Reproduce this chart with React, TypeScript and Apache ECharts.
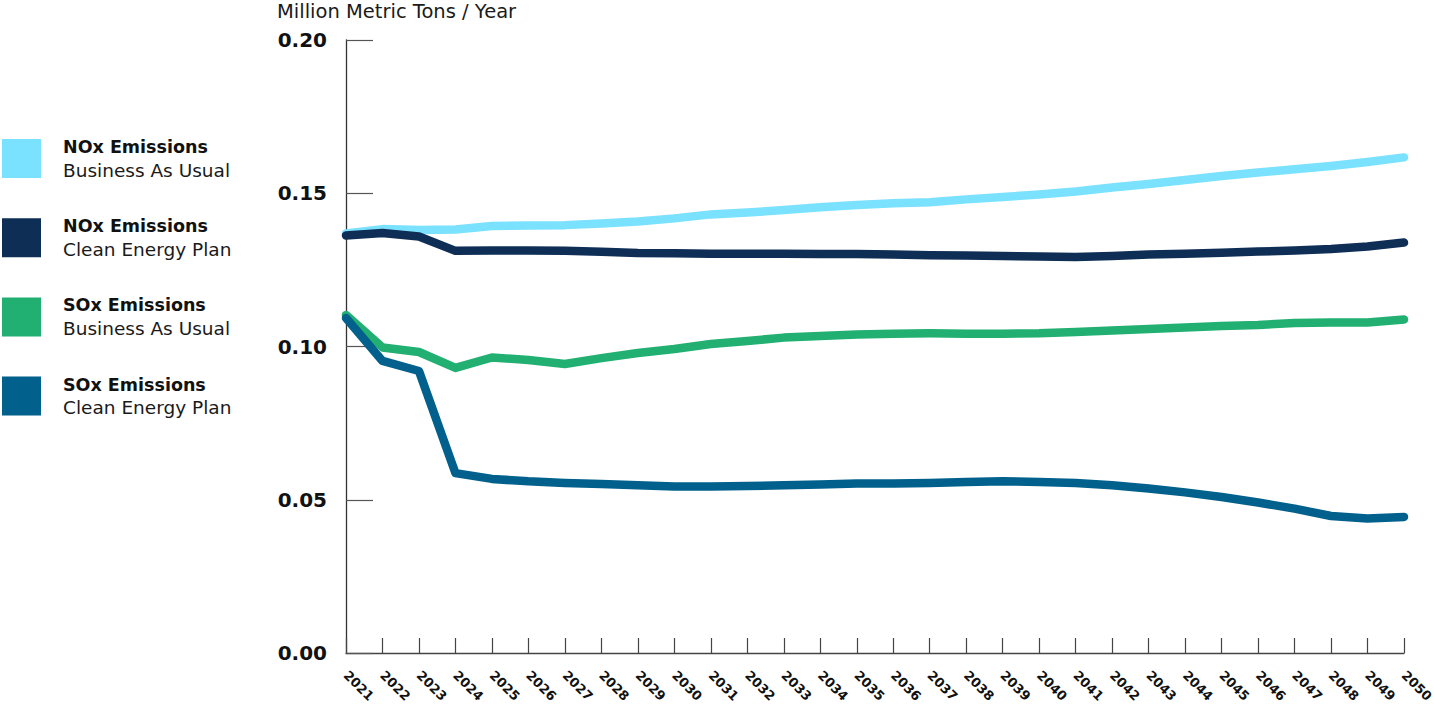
import React, { useEffect, useRef } from "react";
import * as echarts from "echarts";

// Projected annual emissions, million metric tons per year
const years = [
  "2021", "2022", "2023", "2024", "2025", "2026", "2027", "2028", "2029", "2030",
  "2031", "2032", "2033", "2034", "2035", "2036", "2037", "2038", "2039", "2040",
  "2041", "2042", "2043", "2044", "2045", "2046", "2047", "2048", "2049", "2050",
];

const noxBusinessAsUsual = [
  0.1369, 0.1383, 0.138, 0.1382, 0.1393, 0.1395, 0.1396, 0.1401, 0.1408, 0.1418,
  0.1431, 0.1437, 0.1445, 0.1454, 0.1462, 0.1467, 0.1471, 0.148, 0.1488, 0.1496,
  0.1506, 0.1519, 0.153, 0.1543, 0.1556, 0.1568, 0.1578, 0.1589, 0.1602, 0.1617,
];

const noxCleanEnergyPlan = [
  0.1362, 0.137, 0.1359, 0.1312, 0.1313, 0.1313, 0.1312, 0.1309, 0.1305, 0.1304,
  0.1303, 0.1303, 0.1303, 0.1302, 0.1302, 0.13, 0.1298, 0.1297, 0.1295, 0.1294,
  0.1292, 0.1295, 0.13, 0.1303, 0.1306, 0.131, 0.1313, 0.1318, 0.1326, 0.1339,
];

const soxBusinessAsUsual = [
  0.1103, 0.0997, 0.0982, 0.093, 0.0964, 0.0956, 0.0943, 0.0962, 0.0979, 0.0992,
  0.1008, 0.1018, 0.1029, 0.1034, 0.1039, 0.1042, 0.1043, 0.1042, 0.1042, 0.1043,
  0.1047, 0.1052, 0.1057, 0.1062, 0.1067, 0.107, 0.1077, 0.1078, 0.1078, 0.1088,
];

const soxCleanEnergyPlan = [
  0.1093, 0.0953, 0.092, 0.0587, 0.0568, 0.056, 0.0555, 0.0551, 0.0547, 0.0543,
  0.0543, 0.0545, 0.0547, 0.055, 0.0553, 0.0553, 0.0555, 0.0558, 0.056, 0.0558,
  0.0555, 0.0547, 0.0537, 0.0524, 0.0509, 0.0491, 0.0471, 0.0447, 0.0439, 0.0444,
];

const pollutants = ["NOx Emissions", "NOx Emissions", "SOx Emissions", "SOx Emissions"];
const scenarios = ["Business As Usual", "Clean Energy Plan", "Business As Usual", "Clean Energy Plan"];
const seriesColors = ["#7AE1FE", "#0E2E55", "#21B072", "#01618C"];
const seriesValues = [noxBusinessAsUsual, noxCleanEnergyPlan, soxBusinessAsUsual, soxCleanEnergyPlan];

const yTicks = { min: 0, max: 0.2, interval: 0.05 };
const unitLabel = "Million Metric Tons / Year";

const FONT = "'DejaVu Sans', sans-serif";

export default function App() {
  const ref = useRef<HTMLDivElement>(null);

  useEffect(() => {
    if (!ref.current) return;
    const chart = echarts.init(ref.current, null, { renderer: "svg" });

    const names = pollutants.map((p, i) => `${p} ${scenarios[i]}`);

    chart.setOption({
      animation: false,
      backgroundColor: "#ffffff",
      grid: {
        left: 346,
        right: 30,
        top: 40,
        bottom: 56,
        containLabel: false,
        outerBoundsMode: "none",
      },
      legend: {
        orient: "vertical",
        left: 2,
        top: 138,
        padding: 0,
        icon: "rect",
        itemWidth: 39,
        itemHeight: 39,
        itemGap: 37.7,
        selectedMode: false,
        data: names.map((n, i) => ({ name: n, itemStyle: { color: seriesColors[i] } })),
        formatter: (name: string) => {
          const i = names.indexOf(name);
          return `{t|${pollutants[i]}}\n{s|${scenarios[i]}}`;
        },
        textStyle: {
          rich: {
            t: {
              fontFamily: FONT,
              fontWeight: "bold",
              fontSize: 17.5,
              lineHeight: 23,
              color: "#111111",
              padding: [0, 0, 0, 17],
            },
            s: {
              fontFamily: FONT,
              fontSize: 18.5,
              lineHeight: 23,
              color: "#1a1a1a",
              padding: [0, 0, 0, 17],
            },
          },
        },
      },
      graphic: [
        {
          type: "text",
          left: 277,
          top: 1,
          style: {
            text: unitLabel,
            fontFamily: FONT,
            fontSize: 19.5,
            fill: "#1a1a1a",
          },
        },
      ],
      xAxis: {
        type: "category",
        data: years,
        boundaryGap: false,
        axisLine: { lineStyle: { color: "#444444", width: 1.3 } },
        axisTick: {
          inside: true,
          length: 15,
          lineStyle: { color: "#444444", width: 1.2 },
        },
        axisLabel: {
          interval: 0,
          rotate: -45,
          margin: 20,
          fontFamily: FONT,
          fontWeight: "bold",
          fontSize: 13,
          color: "#111111",
        },
        splitLine: { show: false },
      },
      yAxis: {
        type: "value",
        min: yTicks.min,
        max: yTicks.max,
        interval: yTicks.interval,
        axisLine: { show: true, lineStyle: { color: "#333333", width: 1.3 } },
        axisTick: {
          show: true,
          inside: true,
          length: 27,
          lineStyle: { color: "#555555", width: 1.2 },
        },
        axisLabel: {
          margin: 19,
          fontFamily: FONT,
          fontWeight: "bold",
          fontSize: 20,
          color: "#111111",
          formatter: (v: number) => v.toFixed(2),
        },
        splitLine: { show: false },
      },
      series: names.map((n, i) => ({
        name: n,
        type: "line",
        data: seriesValues[i],
        showSymbol: false,
        symbol: "none",
        color: seriesColors[i],
        itemStyle: { color: seriesColors[i] },
        lineStyle: { color: seriesColors[i], width: 8.5, cap: "round", join: "round" },
        emphasis: { disabled: true },
        z: 2 + i,
      })),
    });

    return () => chart.dispose();
  }, []);

  return (
    <div
      ref={ref}
      style={{ position: "absolute", left: 0, top: 0, width: 1434, height: 709 }}
    />
  );
}
